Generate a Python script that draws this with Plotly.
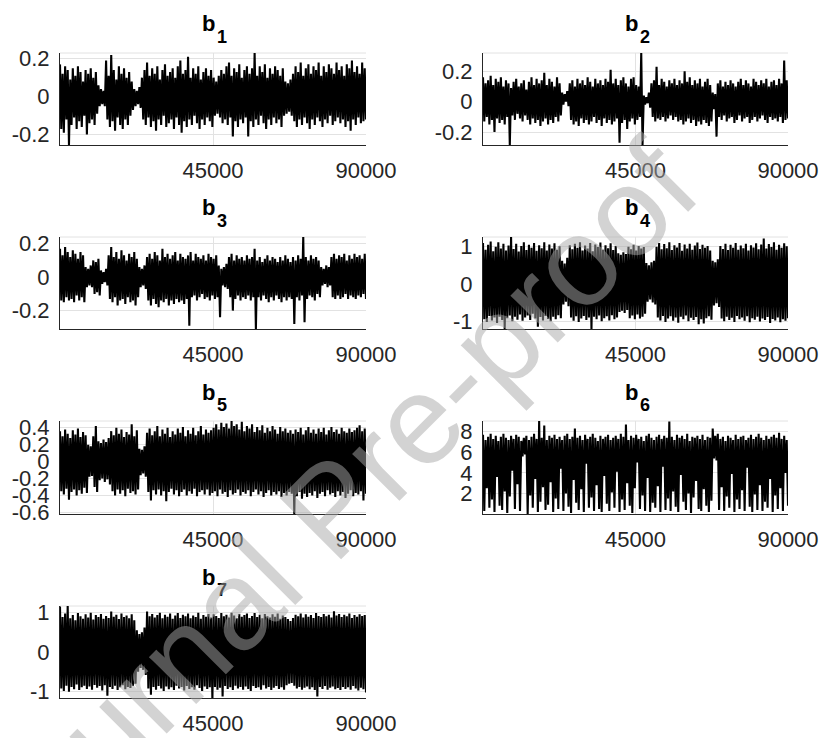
import numpy as np
import plotly.graph_objects as go

FONT = "Liberation Sans, Arial, sans-serif"
N_ITER = 90000

# Chain traces, summarised as the maximum / minimum reached in each of
# 120 consecutive blocks of 750 iterations.
b1_hi = [0.17, 0.12, 0.16, 0.14, 0.09, 0.15, 0.11, 0.16, 0.13, 0.08, 0.14, 0.12,
         0.15, 0.10, 0.13, 0.06, 0.04, 0.03, 0.19, 0.11, 0.22, 0.14, 0.09, 0.16,
         0.12, 0.15, 0.10, 0.13, 0.08, 0.04, 0.03, 0.05, 0.10, 0.14, 0.18, 0.11,
         0.15, 0.12, 0.16, 0.09, 0.14, 0.17, 0.11, 0.13, 0.15, 0.10, 0.16, 0.19,
         0.12, 0.14, 0.21, 0.10, 0.15, 0.12, 0.16, 0.09, 0.13, 0.15, 0.11, 0.14,
         0.10, 0.08, 0.11, 0.14, 0.12, 0.16, 0.18, 0.11, 0.15, 0.13, 0.17, 0.10,
         0.14, 0.16, 0.12, 0.15, 0.23, 0.11, 0.16, 0.13, 0.17, 0.10, 0.15, 0.12,
         0.16, 0.14, 0.11, 0.15, 0.08, 0.07, 0.09, 0.12, 0.16, 0.13, 0.18, 0.11,
         0.15, 0.17, 0.12, 0.16, 0.14, 0.18, 0.11, 0.16, 0.13, 0.17, 0.15, 0.12,
         0.18, 0.14, 0.16, 0.11, 0.17, 0.15, 0.19, 0.13, 0.16, 0.12, 0.18, 0.15]
b1_lo = [-0.17, -0.19, -0.12, -0.255, -0.15, -0.11, -0.17, -0.13, -0.16, -0.10, -0.20, -0.14,
         -0.12, -0.15, -0.09, -0.05, -0.04, -0.05, -0.12, -0.16, -0.13, -0.18, -0.11, -0.15,
         -0.17, -0.12, -0.15, -0.10, -0.07, -0.05, -0.04, -0.06, -0.12, -0.15, -0.11, -0.16,
         -0.13, -0.18, -0.12, -0.15, -0.10, -0.16, -0.14, -0.12, -0.17, -0.11, -0.15, -0.19,
         -0.13, -0.16, -0.12, -0.15, -0.10, -0.14, -0.17, -0.12, -0.15, -0.11, -0.13, -0.16,
         -0.10, -0.09, -0.11, -0.14, -0.12, -0.15, -0.11, -0.21, -0.13, -0.16, -0.12, -0.14,
         -0.11, -0.21, -0.13, -0.16, -0.12, -0.15, -0.10, -0.14, -0.17, -0.12, -0.15, -0.11,
         -0.14, -0.12, -0.16, -0.10, -0.09, -0.08, -0.10, -0.13, -0.16, -0.12, -0.15, -0.11,
         -0.14, -0.17, -0.12, -0.15, -0.11, -0.13, -0.16, -0.12, -0.14, -0.10, -0.15, -0.13,
         -0.11, -0.14, -0.12, -0.16, -0.13, -0.18, -0.12, -0.15, -0.11, -0.14, -0.13, -0.12]

b2_hi = [0.16, 0.12, 0.14, 0.17, 0.11, 0.15, 0.13, 0.16, 0.10, 0.14, 0.12, 0.09,
         0.13, 0.15, 0.10, 0.12, 0.14, 0.08, 0.13, 0.16, 0.11, 0.15, 0.12, 0.14,
         0.19, 0.11, 0.15, 0.13, 0.10, 0.16, 0.12, 0.06, 0.05, 0.07, 0.12, 0.14,
         0.10, 0.15, 0.12, 0.14, 0.11, 0.16, 0.13, 0.10, 0.15, 0.12, 0.14, 0.11,
         0.15, 0.13, 0.21, 0.12, 0.15, 0.11, 0.14, 0.16, 0.12, 0.10, 0.15, 0.16,
         0.11, 0.10, 0.32, 0.04, 0.03, 0.06, 0.12, 0.14, 0.23, 0.11, 0.15, 0.13,
         0.10, 0.14, 0.12, 0.15, 0.11, 0.14, 0.12, 0.20, 0.13, 0.16, 0.11, 0.14,
         0.12, 0.15, 0.10, 0.13, 0.15, 0.11, 0.06, 0.05, 0.12, 0.14, 0.10, 0.13,
         0.11, 0.14, 0.12, 0.10, 0.13, 0.15, 0.11, 0.14, 0.12, 0.10, 0.15, 0.13,
         0.11, 0.14, 0.12, 0.15, 0.10, 0.13, 0.14, 0.11, 0.15, 0.12, 0.27, 0.14]
b2_lo = [-0.13, -0.10, -0.15, -0.12, -0.20, -0.11, -0.14, -0.12, -0.15, -0.10, -0.285, -0.09,
         -0.12, -0.08, -0.11, -0.13, -0.09, -0.12, -0.15, -0.11, -0.14, -0.12, -0.16, -0.13,
         -0.11, -0.15, -0.12, -0.14, -0.10, -0.13, -0.09, -0.02, 0.00, -0.03, -0.12, -0.15,
         -0.13, -0.16, -0.11, -0.14, -0.12, -0.15, -0.13, -0.10, -0.14, -0.12, -0.16, -0.11,
         -0.14, -0.12, -0.15, -0.13, -0.11, -0.27, -0.14, -0.12, -0.18, -0.13, -0.11, -0.15,
         -0.12, -0.10, -0.285, -0.02, -0.01, -0.04, -0.10, -0.13, -0.11, -0.12, -0.10, -0.13,
         -0.11, -0.09, -0.12, -0.10, -0.13, -0.12, -0.15, -0.13, -0.11, -0.14, -0.12, -0.16,
         -0.13, -0.15, -0.12, -0.14, -0.16, -0.13, -0.05, -0.23, -0.10, -0.12, -0.09, -0.13,
         -0.11, -0.10, -0.14, -0.12, -0.09, -0.13, -0.11, -0.10, -0.14, -0.12, -0.10, -0.13,
         -0.11, -0.09, -0.12, -0.14, -0.10, -0.12, -0.11, -0.13, -0.10, -0.14, -0.12, -0.11]

b3_hi = [0.17, 0.13, 0.18, 0.15, 0.12, 0.16, 0.14, 0.11, 0.15, 0.13, 0.06, 0.05,
         0.07, 0.10, 0.09, 0.11, 0.04, 0.03, 0.05, 0.13, 0.18, 0.12, 0.15, 0.11,
         0.16, 0.13, 0.10, 0.14, 0.12, 0.15, 0.11, 0.06, 0.05, 0.07, 0.12, 0.14,
         0.11, 0.15, 0.13, 0.10, 0.17, 0.12, 0.14, 0.11, 0.13, 0.15, 0.10, 0.14,
         0.12, 0.11, 0.13, 0.15, 0.10, 0.14, 0.12, 0.11, 0.13, 0.10, 0.14, 0.12,
         0.11, 0.13, 0.07, 0.05, 0.06, 0.08, 0.12, 0.14, 0.10, 0.13, 0.11, 0.12,
         0.10, 0.13, 0.11, 0.12, 0.17, 0.10, 0.12, 0.09, 0.11, 0.13, 0.10, 0.12,
         0.11, 0.09, 0.12, 0.10, 0.13, 0.11, 0.09, 0.12, 0.10, 0.13, 0.11, 0.24,
         0.12, 0.10, 0.13, 0.11, 0.12, 0.10, 0.06, 0.05, 0.07, 0.06, 0.12, 0.14,
         0.11, 0.13, 0.12, 0.14, 0.10, 0.13, 0.11, 0.14, 0.12, 0.13, 0.11, 0.14]
b3_lo = [-0.14, -0.15, -0.12, -0.14, -0.13, -0.15, -0.11, -0.14, -0.12, -0.15, -0.06, -0.05,
         -0.06, -0.10, -0.09, -0.11, -0.04, -0.03, -0.05, -0.13, -0.15, -0.12, -0.17, -0.14,
         -0.13, -0.16, -0.12, -0.15, -0.14, -0.17, -0.12, -0.06, -0.05, -0.07, -0.14, -0.17,
         -0.13, -0.16, -0.18, -0.14, -0.15, -0.13, -0.17, -0.14, -0.16, -0.13, -0.15, -0.14,
         -0.16, -0.13, -0.29, -0.12, -0.11, -0.14, -0.12, -0.10, -0.13, -0.12, -0.14, -0.11,
         -0.13, -0.12, -0.24, -0.05, -0.06, -0.07, -0.12, -0.20, -0.13, -0.11, -0.14, -0.12,
         -0.13, -0.11, -0.14, -0.12, -0.31, -0.12, -0.14, -0.11, -0.13, -0.15, -0.12, -0.14,
         -0.11, -0.13, -0.15, -0.12, -0.14, -0.12, -0.13, -0.28, -0.12, -0.14, -0.11, -0.27,
         -0.13, -0.11, -0.12, -0.14, -0.10, -0.12, -0.05, -0.04, -0.06, -0.05, -0.12, -0.13,
         -0.11, -0.13, -0.12, -0.10, -0.13, -0.11, -0.12, -0.13, -0.11, -0.12, -0.10, -0.13]

b4_hi = [1.10, 0.92, 1.05, 1.14, 0.88, 1.00, 1.12, 0.95, 1.08, 0.90, 1.03, 1.26,
         0.94, 1.08, 0.87, 1.02, 1.12, 0.91, 1.05, 0.97, 1.10, 0.89, 1.04, 0.96,
         1.12, 0.90, 1.06, 0.95, 1.09, 0.92, 1.01, 0.62, 0.55, 0.70, 1.04, 0.93,
         1.08, 0.97, 1.12, 0.90, 1.03, 0.95, 1.10, 0.88, 1.06, 0.99, 1.11, 0.92,
         1.04, 0.96, 1.09, 0.91, 1.02, 0.82, 0.78, 0.85, 0.80, 1.00, 0.93, 1.05,
         0.90, 1.02, 0.95, 0.99, 0.56, 0.50, 0.58, 0.62, 1.00, 1.10, 0.93, 1.07,
         0.96, 1.12, 0.91, 1.04, 0.98, 1.10, 0.89, 1.06, 0.95, 1.08, 0.92, 1.03,
         1.11, 0.94, 1.05, 0.97, 1.02, 0.90, 0.62, 0.58, 0.66, 1.02, 0.94, 1.08,
         0.91, 1.05, 0.97, 1.10, 0.92, 1.03, 0.96, 1.08, 0.90, 1.04, 0.98, 1.09,
         0.93, 1.06, 1.22, 0.95, 1.07, 0.99, 1.12, 0.92, 1.05, 0.97, 1.09, 1.01]
b4_lo = [-0.95, -1.02, -0.86, -0.98, -0.90, -1.05, -0.88, -0.97, -1.21, -0.92, -0.85, -1.00,
         -0.88, -0.96, -0.82, -0.99, -0.90, -0.85, -0.97, -0.80, -0.93, -1.15, -0.89, -0.98,
         -0.86, -0.94, -1.00, -0.88, -0.95, -0.84, -0.92, -0.55, -0.48, -0.60, -0.90, -0.99,
         -0.87, -1.02, -0.93, -0.86, -0.97, -0.90, -1.21, -0.88, -0.95, -0.85, -1.00, -0.92,
         -0.87, -0.98, -0.84, -0.95, -0.90, -0.75, -0.72, -0.78, -0.70, -0.92, -0.85, -0.95,
         -0.82, -0.93, -0.88, -0.80, -0.48, -0.42, -0.50, -0.55, -0.90, -0.98, -0.86, -1.02,
         -0.93, -0.87, -0.99, -0.90, -1.04, -0.88, -0.95, -0.85, -1.00, -0.91, -0.97, -0.89,
         -1.08, -0.95, -1.06, -0.92, -0.87, -0.96, -0.58, -0.52, -0.62, -0.93, -1.00, -0.88,
         -0.97, -0.91, -1.02, -0.86, -0.95, -0.90, -0.99, -0.87, -1.03, -0.92, -0.96, -0.88,
         -1.01, -0.93, -0.97, -0.89, -1.05, -0.94, -0.98, -0.90, -1.03, -0.95, -0.99, -0.92]

b5_hi = [0.36, 0.30, 0.38, 0.33, 0.28, 0.37, 0.32, 0.39, 0.29, 0.35, 0.31, 0.20,
         0.18, 0.30, 0.42, 0.24, 0.22, 0.26, 0.23, 0.28, 0.36, 0.31, 0.40, 0.33,
         0.38, 0.29, 0.35, 0.32, 0.44, 0.30, 0.37, 0.15, 0.14, 0.18, 0.34, 0.39,
         0.31, 0.36, 0.42, 0.30, 0.38, 0.33, 0.40, 0.29, 0.36, 0.32, 0.39, 0.34,
         0.41, 0.30, 0.37, 0.33, 0.40, 0.31, 0.36, 0.42, 0.32, 0.38, 0.34, 0.37,
         0.40, 0.44, 0.38, 0.46, 0.41, 0.45, 0.39, 0.48, 0.42, 0.44, 0.38, 0.47,
         0.36, 0.42, 0.39, 0.44, 0.35, 0.41, 0.37, 0.43, 0.34, 0.40, 0.36, 0.42,
         0.38, 0.33, 0.41, 0.36, 0.39, 0.34, 0.37, 0.33, 0.38, 0.35, 0.40, 0.32,
         0.37, 0.41, 0.34, 0.38, 0.33, 0.39, 0.35, 0.40, 0.32, 0.37, 0.41, 0.35,
         0.38, 0.33, 0.40, 0.36, 0.34, 0.39, 0.35, 0.37, 0.40, 0.43, 0.36, 0.39]
b5_lo = [-0.35, -0.39, -0.32, -0.45, -0.36, -0.33, -0.40, -0.34, -0.38, -0.31, -0.37, -0.18,
         -0.17, -0.30, -0.36, -0.22, -0.20, -0.24, -0.21, -0.27, -0.35, -0.40, -0.33, -0.38,
         -0.34, -0.41, -0.32, -0.37, -0.35, -0.39, -0.33, -0.16, -0.14, -0.18, -0.36, -0.46,
         -0.34, -0.39, -0.33, -0.40, -0.35, -0.47, -0.36, -0.32, -0.39, -0.34, -0.41, -0.36,
         -0.33, -0.40, -0.35, -0.38, -0.32, -0.41, -0.36, -0.34, -0.39, -0.33, -0.40, -0.37,
         -0.35, -0.41, -0.33, -0.38, -0.36, -0.42, -0.34, -0.39, -0.37, -0.33, -0.40, -0.36,
         -0.38, -0.34, -0.41, -0.36, -0.33, -0.39, -0.35, -0.42, -0.37, -0.34, -0.40, -0.36,
         -0.39, -0.35, -0.42, -0.37, -0.40, -0.36, -0.38, -0.62, -0.41, -0.36, -0.44, -0.38,
         -0.42, -0.37, -0.40, -0.35, -0.43, -0.38, -0.36, -0.41, -0.34, -0.39, -0.37, -0.42,
         -0.35, -0.40, -0.36, -0.43, -0.38, -0.34, -0.41, -0.37, -0.39, -0.35, -0.46, -0.38]

b6_hi = [7.7, 7.2, 7.5, 7.8, 7.3, 7.6, 7.1, 7.5, 7.8, 7.4, 7.2, 7.6,
         7.3, 7.7, 7.5, 7.1, 7.4, 7.6, 7.2, 7.5, 7.8, 7.3, 9.04, 7.4,
         8.6, 7.2, 7.6, 7.4, 7.7, 7.3, 7.5, 7.2, 7.6, 7.8, 7.3, 7.5,
         8.3, 7.4, 7.6, 7.2, 7.7, 7.3, 7.5, 7.8, 7.4, 7.1, 7.6, 7.3,
         7.5, 7.7, 7.2, 7.4, 7.6, 7.3, 7.8, 7.5, 8.7, 7.2, 7.6, 7.4,
         7.7, 7.3, 7.5, 7.1, 7.6, 7.8, 7.4, 7.2, 7.5, 7.7, 7.3, 7.6,
         7.4, 9.0, 7.5, 7.2, 7.7, 7.4, 7.6, 7.3, 7.8, 7.1, 7.5, 7.4,
         7.6, 7.3, 7.7, 7.2, 7.5, 7.4, 8.3, 7.6, 7.8, 7.3, 7.5, 7.1,
         7.6, 7.4, 7.2, 7.7, 7.3, 7.5, 7.6, 7.2, 7.4, 7.7, 7.3, 7.5,
         7.8, 7.4, 7.2, 7.6, 7.3, 7.5, 7.7, 7.4, 7.9, 7.3, 7.6, 7.2]
b6_lo = [0.3, 2.5, 0.6, 1.4, 0.2, 3.6, 0.8, 0.4, 2.2, 0.1, 1.7, 4.2,
         0.5, 2.9, 0.3, 5.6, 5.8, 0.0, 1.8, 0.6, 3.4, 0.2, 1.2, 2.6,
         0.4, 0.9, 3.1, 0.2, 1.5, 0.5, 4.4, 0.3, 2.0, 0.7, 0.1, 3.3,
         1.1, 0.4, 2.4, 0.2, 4.9, 0.6, 1.6, 0.3, 2.8, 0.5, 0.2, 3.7,
         1.0, 0.3, 2.1, 0.6, 4.1, 0.2, 1.4, 0.4, 3.0, 0.8, 0.1, 2.5,
         5.0, 0.5, 1.8, 0.3, 3.5, 0.2, 1.1, 0.6, 2.7, 0.2, 4.6, 0.4,
         1.5, 0.3, 2.2, 0.7, 0.2, 3.8, 1.2, 0.4, 2.0, 0.1, 1.6, 3.2,
         0.5, 0.3, 2.4, 0.8, 0.2, 1.3, 5.4, 5.2, 0.4, 2.6, 0.3, 1.7,
         0.6, 3.9, 0.2, 1.4, 0.5, 2.3, 0.3, 4.5, 0.7, 0.2, 1.9, 0.4,
         2.8, 0.3, 1.2, 0.6, 3.4, 0.2, 1.8, 0.5, 2.5, 0.3, 4.0, 0.8]

b7_hi = [1.15, 0.88, 0.97, 1.16, 0.85, 0.93, 0.80, 0.98, 0.90, 0.84, 0.95, 0.87,
         0.99, 0.82, 0.93, 0.88, 0.96, 0.84, 0.91, 0.86, 1.02, 0.89, 0.94, 0.83,
         0.97, 0.88, 0.92, 0.85, 0.95, 0.80, 0.55, 0.45, 0.50, 0.62, 1.02, 0.90,
         0.96, 0.87, 0.93, 0.99, 0.85, 0.94, 0.89, 0.97, 0.84, 0.92, 0.98, 0.86,
         0.94, 0.90, 0.97, 0.85, 0.92, 0.88, 0.99, 0.84, 0.93, 0.89, 0.96, 0.87,
         0.95, 0.91, 0.86, 0.98, 0.90, 0.94, 0.87, 0.99, 0.92, 0.85, 0.96, 0.89,
         0.93, 0.97, 0.86, 0.91, 0.98, 0.88, 0.94, 0.85, 0.96, 0.90, 0.87, 0.95,
         0.89, 0.97, 0.84, 0.92, 0.88, 0.83, 0.78, 0.86, 0.94, 0.90, 0.97, 0.87,
         0.95, 0.89, 0.93, 0.86, 0.98, 0.91, 0.88, 0.96, 0.90, 0.94, 0.87, 1.03,
         0.92, 0.96, 0.88, 0.94, 0.90, 0.97, 0.86, 0.93, 0.89, 0.95, 0.91, 0.93]
b7_lo = [-0.92, -0.98, -0.85, -1.00, -0.88, -0.94, -0.82, -0.96, -0.89, -0.85, -0.93, -0.87,
         -0.95, -0.83, -0.90, -0.86, -0.97, -0.84, -1.10, -0.88, -0.93, -0.85, -0.96, -0.89,
         -0.84, -0.94, -0.88, -0.91, -0.86, -0.80, -0.50, -0.40, -0.45, -0.58, -0.92, -1.08,
         -0.88, -0.95, -0.86, -0.92, -0.98, -0.87, -0.94, -0.89, -0.96, -0.85, -0.92, -0.88,
         -0.97, -0.86, -0.93, -0.89, -0.95, -0.84, -0.91, -0.98, -0.87, -0.93, -0.89, -1.16,
         -0.88, -0.95, -0.90, -1.12, -0.86, -0.93, -0.89, -0.96, -0.85, -0.92, -0.88, -0.95,
         -0.87, -0.93, -0.98, -0.86, -0.91, -0.89, -0.95, -0.84, -0.92, -0.88, -0.96, -0.90,
         -0.86, -0.93, -0.89, -0.95, -0.84, -0.80, -0.78, -0.85, -0.92, -0.88, -0.95, -0.90,
         -0.87, -0.94, -0.89, -0.96, -1.12, -0.88, -0.93, -0.86, -0.95, -0.90, -0.87, -0.94,
         -0.91, -0.96, -0.88, -0.93, -0.89, -0.95, -0.86, -0.92, -0.97, -0.90, -0.94, -1.02]

# Axis ticks
x_ticks = [45000, 90000]
x_ticktext = ["45000", "90000"]
b1_ticks, b1_ticktext = [-0.2, 0, 0.2], ["-0.2", "0", "0.2"]
b2_ticks, b2_ticktext = [-0.2, 0, 0.2], ["-0.2", "0", "0.2"]
b3_ticks, b3_ticktext = [-0.2, 0, 0.2], ["-0.2", "0", "0.2"]
b4_ticks, b4_ticktext = [-1, 0, 1], ["-1", "0", "1"]
b5_ticks = [-0.6, -0.4, -0.2, 0, 0.2, 0.4]
b5_ticktext = ["-0.6", "-0.4", "-0.2", "0", "0.2", "0.4"]
b6_ticks, b6_ticktext = [2, 4, 6, 8], ["2", "4", "6", "8"]
b7_ticks, b7_ticktext = [-1, 0, 1], ["-1", "0", "1"]

panels = [
    ("1", b1_hi, b1_lo, b1_ticks, b1_ticktext),
    ("2", b2_hi, b2_lo, b2_ticks, b2_ticktext),
    ("3", b3_hi, b3_lo, b3_ticks, b3_ticktext),
    ("4", b4_hi, b4_lo, b4_ticks, b4_ticktext),
    ("5", b5_hi, b5_lo, b5_ticks, b5_ticktext),
    ("6", b6_hi, b6_lo, b6_ticks, b6_ticktext),
    ("7", b7_hi, b7_lo, b7_ticks, b7_ticktext),
]

# 4 x 2 grid of axes, in pixels of the 825 x 738 page
W, H = 825, 738
col_px = [(60, 366), (483, 788)]
row_px = [(53, 145), (237, 329), (421, 514), (606, 698)]

AXIS_COL = "#262626"
GRID_COL = "#e2e2e2"

fig = go.Figure()
annotations = []
shapes = []

for k, (idx, hi, lo, yt, ytt) in enumerate(panels):
    r, c = divmod(k, 2)
    n = k + 1
    xa = "xaxis" if n == 1 else f"xaxis{n}"
    ya = "yaxis" if n == 1 else f"yaxis{n}"
    xr = "x" if n == 1 else f"x{n}"
    yr = "y" if n == 1 else f"y{n}"

    # chain path: block maximum then block minimum, in iteration order
    xs = np.linspace(1, N_ITER, 2 * len(hi))
    path = []
    for h, l in zip(hi, lo):
        path += [h, l]

    fig.add_trace(go.Scatter(x=xs, y=path, mode="lines",
                             line=dict(color="black", width=2.1,
                                       simplify=False),
                             xaxis=xr, yaxis=yr, showlegend=False,
                             hoverinfo="skip"))

    x0, x1 = col_px[c]
    y0, y1 = row_px[r]
    common = dict(showgrid=True, gridcolor=GRID_COL, gridwidth=1,
                  zeroline=False, showline=True, linecolor=AXIS_COL,
                  linewidth=1, ticks="", automargin=False,
                  tickfont=dict(family=FONT, size=22, color=AXIS_COL))
    fig.layout[xa] = dict(common, domain=[x0 / W, x1 / W], range=[0, N_ITER],
                          tickvals=x_ticks, ticktext=x_ticktext,
                          ticklabelstandoff=6, anchor=yr)
    fig.layout[ya] = dict(common, domain=[1 - y1 / H, 1 - y0 / H],
                          range=[min(lo), max(hi)], tickvals=yt, ticktext=ytt,
                          ticklabelstandoff=5, anchor=xr)

    # light frame line along the top of each axes
    shapes.append(dict(type="line", xref=f"{xr} domain", yref=f"{yr} domain",
                       x0=0, x1=1, y0=1, y1=1,
                       line=dict(color=GRID_COL, width=1), layer="below"))

    # panel title b_k
    cx = (x0 + x1) / 2 / W
    annotations.append(dict(text="<b>b</b>", x=cx, y=1 - (y0 - 29) / H,
                            xref="paper", yref="paper", xanchor="right",
                            yanchor="middle", xshift=4, showarrow=False,
                            font=dict(family=FONT, size=22, color="black")))
    annotations.append(dict(text=f"<b>{idx}</b>", x=cx, y=1 - (y0 - 16) / H,
                            xref="paper", yref="paper", xanchor="left",
                            yanchor="middle", xshift=2, showarrow=False,
                            font=dict(family=FONT, size=18, color="black")))

# diagonal stamp across the page
annotations.append(dict(text="Journal Pre-proof", x=330 / W, y=1 - 508 / H,
                        xref="paper", yref="paper", xanchor="center",
                        yanchor="middle", textangle=-45, showarrow=False,
                        font=dict(family=FONT, size=126,
                                  color="rgba(168,168,168,0.5)")))

fig.update_layout(template="none", width=W, height=H,
                  margin=dict(l=0, r=0, t=0, b=0, autoexpand=False),
                  paper_bgcolor="white", plot_bgcolor="white",
                  annotations=annotations, shapes=shapes, showlegend=False)

fig.write_html("out.html")
